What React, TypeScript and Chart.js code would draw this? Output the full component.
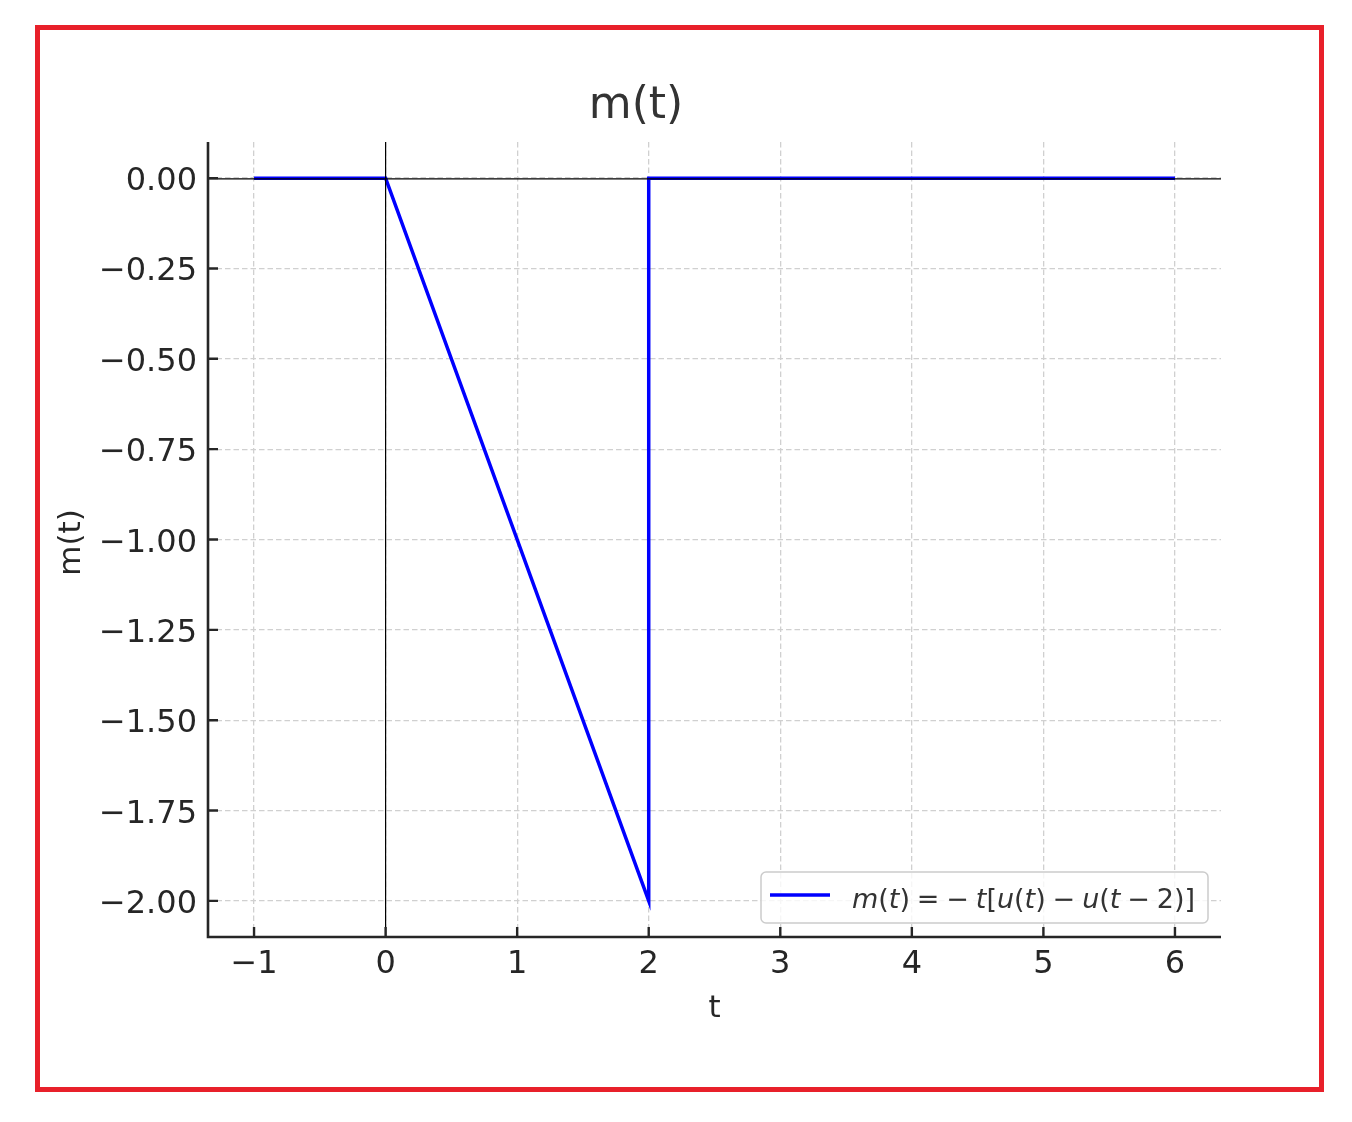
import React, { useEffect, useRef } from "react";
import { Chart, registerables } from "chart.js";

Chart.register(...registerables);

// ---- data ----
const tValues = [-1, 0, 2, 2, 6];
const mValues = [0, 0, -2, 0, 0];

const xTicks = [-1, 0, 1, 2, 3, 4, 5, 6];
const xTickLabels = ["\u22121", "0", "1", "2", "3", "4", "5", "6"];
const yTicks = [0, -0.25, -0.5, -0.75, -1, -1.25, -1.5, -1.75, -2];
const yTickLabels = [
  "0.00",
  "\u22120.25",
  "\u22120.50",
  "\u22120.75",
  "\u22121.00",
  "\u22121.25",
  "\u22121.50",
  "\u22121.75",
  "\u22122.00",
];
const xRange = [-1.35, 6.35];
const yRange = [-2.1, 0.1];

const titleText = "m(t)";
const xLabelText = "t";
const yLabelText = "m(t)";
// legend label: m(t) = − t[u(t) − u(t − 2)]  (text, italic); "" marks a math gap
const legendSegments: [string, boolean][] = [
  ["m", true], ["(", false], ["t", true], [")", false], ["", false],
  ["=", false], ["", false], ["\u2212", false], ["", false],
  ["t", true], ["[", false], ["u", true], ["(", false], ["t", true], [")", false],
  ["", false], ["\u2212", false], ["", false],
  ["u", true], ["(", false], ["t", true], ["", false], ["\u2212", false], ["", false],
  ["2", false], [")", false], ["]", false],
];

const W = 1352;
const H = 1122;
const FONT = "'DejaVu Sans', 'Liberation Sans', sans-serif";
const LINE_COLOR = "#0000ff";

const decorPlugin = {
  id: "decor",
  beforeDraw(chart: any) {
    const ctx = chart.ctx;
    ctx.save();
    ctx.fillStyle = "#ffffff";
    ctx.fillRect(0, 0, chart.width, chart.height);
    ctx.restore();
  },
  afterDatasetsDraw(chart: any) {
    const ctx: CanvasRenderingContext2D = chart.ctx;
    const a = chart.chartArea;
    const xs = chart.scales.x;
    const ys = chart.scales.y;
    ctx.save();

    // zero reference lines
    ctx.strokeStyle = "#000000";
    ctx.lineWidth = 1.2;
    const y0 = ys.getPixelForValue(0) + 0.8;
    const x0 = xs.getPixelForValue(0);
    ctx.beginPath();
    ctx.moveTo(a.left, y0);
    ctx.lineTo(a.right, y0);
    ctx.moveTo(x0, a.top);
    ctx.lineTo(x0, a.bottom);
    ctx.stroke();

    // spines
    ctx.strokeStyle = "#262626";
    ctx.lineWidth = 2.6;
    ctx.lineCap = "butt";
    ctx.beginPath();
    ctx.moveTo(a.left, a.top);
    ctx.lineTo(a.left, a.bottom + 1.3);
    ctx.moveTo(a.left - 1.3, a.bottom);
    ctx.lineTo(a.right, a.bottom);
    ctx.stroke();

    // inward ticks
    ctx.lineWidth = 2.4;
    ctx.beginPath();
    xTicks.forEach((v) => {
      const px = xs.getPixelForValue(v);
      ctx.moveTo(px, a.bottom);
      ctx.lineTo(px, a.bottom - 10);
    });
    yTicks.forEach((v) => {
      const py = ys.getPixelForValue(v);
      ctx.moveTo(a.left, py);
      ctx.lineTo(a.left + 10, py);
    });
    ctx.stroke();

    // tick labels
    ctx.fillStyle = "#262626";
    ctx.font = `32px ${FONT}`;
    ctx.textBaseline = "alphabetic";
    ctx.textAlign = "center";
    xTicks.forEach((v, i) => {
      ctx.fillText(xTickLabels[i], xs.getPixelForValue(v), a.bottom + 36);
    });
    ctx.textAlign = "right";
    yTicks.forEach((v, i) => {
      ctx.fillText(yTickLabels[i], a.left - 11, ys.getPixelForValue(v) + 12);
    });

    // axis labels
    ctx.font = `31px ${FONT}`;
    ctx.textAlign = "center";
    ctx.fillText(xLabelText, (a.left + a.right) / 2, a.bottom + 80);
    ctx.save();
    ctx.translate(80, (a.top + a.bottom) / 2 + 3);
    ctx.rotate(-Math.PI / 2);
    ctx.fillText(yLabelText, 0, 0);
    ctx.restore();

    // title
    ctx.fillStyle = "#333333";
    ctx.font = `44px ${FONT}`;
    ctx.textAlign = "center";
    ctx.fillText(titleText, 636, 118);

    // legend
    const bx = a.right - 460;
    const by = a.bottom - 65;
    const bw = 447;
    const bh = 51;
    ctx.beginPath();
    (ctx as any).roundRect(bx, by, bw, bh, 5);
    ctx.fillStyle = "rgba(255,255,255,0.8)";
    ctx.fill();
    ctx.strokeStyle = "#cccccc";
    ctx.lineWidth = 1.5;
    ctx.stroke();

    ctx.strokeStyle = LINE_COLOR;
    ctx.lineWidth = 3.5;
    ctx.beginPath();
    ctx.moveTo(bx + 9, by + 23);
    ctx.lineTo(bx + 69, by + 23);
    ctx.stroke();

    const fs = 27;
    const upFont = `${fs}px ${FONT}`;
    const itFont = `italic ${fs}px ${FONT}`;
    let glyphW = 0;
    let gaps = 0;
    legendSegments.forEach(([t, it]) => {
      if (t === "") {
        gaps++;
        return;
      }
      ctx.font = it ? itFont : upFont;
      glyphW += ctx.measureText(t).width;
    });
    const targetW = 343;
    const gap = Math.max(2, Math.min(12, (targetW - glyphW) / Math.max(1, gaps)));
    let tx = bx + 91;
    const tyBase = by + 36;
    ctx.fillStyle = "#333333";
    ctx.textAlign = "left";
    legendSegments.forEach(([t, it]) => {
      if (t === "") {
        tx += gap;
        return;
      }
      ctx.font = it ? itFont : upFont;
      ctx.fillText(t, tx, tyBase);
      tx += ctx.measureText(t).width;
    });

    // outer red frame
    ctx.strokeStyle = "#e8202a";
    ctx.lineWidth = 5;
    ctx.strokeRect(37.5, 27.5, 1284, 1062);

    ctx.restore();
  },
};

export default function App() {
  const ref = useRef<HTMLCanvasElement | null>(null);

  useEffect(() => {
    if (!ref.current) return;
    const chart = new Chart(ref.current, {
      type: "scatter",
      data: {
        datasets: [
          {
            label: "m(t) = \u2212t[u(t) \u2212 u(t \u2212 2)]",
            data: tValues.map((t, i) => ({ x: t, y: mValues[i] })),
            showLine: true,
            borderColor: LINE_COLOR,
            backgroundColor: LINE_COLOR,
            borderWidth: 3.5,
            pointRadius: 0,
            tension: 0,
          },
        ],
      },
      options: {
        responsive: false,
        animation: false,
        devicePixelRatio: 1,
        layout: { padding: { left: 208, right: W - 1221, top: 142, bottom: H - 937 } },
        plugins: {
          legend: { display: false },
          title: { display: false },
          tooltip: { enabled: false },
        },
        scales: {
          x: {
            type: "linear",
            min: xRange[0],
            max: xRange[1],
            afterBuildTicks: (s: any) => {
              s.ticks = xTicks.map((v) => ({ value: v }));
            },
            afterFit: (s: any) => {
              s.height = 0;
            },
            ticks: { display: false },
            grid: { color: "#d0d0d0", lineWidth: 1.3, drawTicks: false },
            border: { display: false, dash: [5.5, 3] },
          },
          y: {
            type: "linear",
            min: yRange[0],
            max: yRange[1],
            afterBuildTicks: (s: any) => {
              s.ticks = yTicks.map((v) => ({ value: v }));
            },
            afterFit: (s: any) => {
              s.width = 0;
            },
            ticks: { display: false },
            grid: { color: "#d0d0d0", lineWidth: 1.3, drawTicks: false },
            border: { display: false, dash: [5.5, 3] },
          },
        },
      },
      plugins: [decorPlugin],
    } as any);
    return () => chart.destroy();
  }, []);

  return (
    <div style={{ position: "absolute", left: 0, top: 0, width: W, height: H }}>
      <canvas ref={ref} width={W} height={H} style={{ display: "block", width: W, height: H }} />
    </div>
  );
}
